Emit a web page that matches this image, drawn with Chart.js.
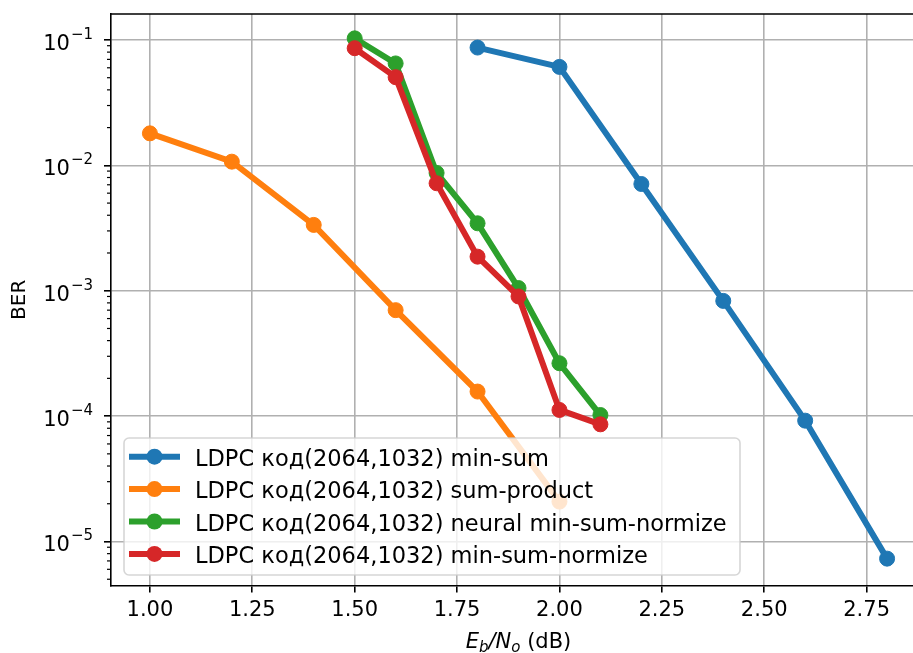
<!DOCTYPE html>
<html>
<head>
<meta charset="utf-8">
<script src="https://cdn.jsdelivr.net/npm/chart.js@4.4.1/dist/chart.umd.min.js"></script>
<style>
html,body{margin:0;padding:0;background:#fff;overflow:hidden;width:913px;height:653px;}
canvas{display:block;}
</style>
</head>
<body>
<canvas id="c" width="940" height="653"></canvas>
<script>
// ---- data ----
const seriesLabels = [
  'LDPC код(2064,1032) min-sum',
  'LDPC код(2064,1032) sum-product',
  'LDPC код(2064,1032) neural min-sum-normize',
  'LDPC код(2064,1032) min-sum-normize'
];
const snrMinSum = [1.8, 2.0, 2.2, 2.4, 2.6, 2.8];
const berMinSum = [0.087, 0.061, 0.0071, 0.00083, 0.000092, 0.0000073];
const snrSumProduct = [1.0, 1.2, 1.4, 1.6, 1.8, 2.0];
const berSumProduct = [0.018, 0.0107, 0.00335, 0.0007, 0.000157, 0.0000208];
const snrNeural = [1.5, 1.6, 1.7, 1.8, 1.9, 2.0, 2.1];
const berNeural = [0.103, 0.065, 0.0087, 0.00345, 0.00105, 0.000264, 0.000102];
const snrNormalized = [1.5, 1.6, 1.7, 1.8, 1.9, 2.0, 2.1];
const berNormalized = [0.086, 0.0505, 0.0072, 0.00187, 0.0009, 0.000112, 0.000086];
const xTickValues = [1.0, 1.25, 1.5, 1.75, 2.0, 2.25, 2.5, 2.75];
const xTickLabels = ['1.00', '1.25', '1.50', '1.75', '2.00', '2.25', '2.50', '2.75'];
const yTickValues = [1e-5, 1e-4, 1e-3, 1e-2, 1e-1];
const yTickExponents = ['\u22125', '\u22124', '\u22123', '\u22122', '\u22121'];
const colors = ['#1f77b4', '#ff7f0e', '#2ca02c', '#d62728'];

const pairs = (xs, ys) => xs.map((x, i) => ({x: x, y: ys[i]}));
const seriesData = [
  pairs(snrMinSum, berMinSum),
  pairs(snrSumProduct, berSumProduct),
  pairs(snrNeural, berNeural),
  pairs(snrNormalized, berNormalized)
];

const FONT = '"DejaVu Sans", sans-serif';
const LW = 6, PR = 7.5;

const datasets = seriesData.map((d, i) => ({
  label: seriesLabels[i],
  data: d,
  borderColor: colors[i],
  backgroundColor: colors[i],
  pointBackgroundColor: colors[i],
  pointBorderColor: colors[i],
  borderWidth: LW,
  pointRadius: PR,
  pointBorderWidth: 1,
  pointHoverRadius: PR,
  tension: 0,
  fill: false,
  order: 3 - i
}));

const extras = {
  id: 'extras',
  afterDatasetsDraw(chart) {
    const ctx = chart.ctx;
    const ca = chart.chartArea;
    const ys = chart.scales.y;
    ctx.save();
    // top and right spines
    ctx.strokeStyle = '#000';
    ctx.lineWidth = 1.6;
    ctx.beginPath();
    ctx.moveTo(ca.left, ca.top);
    ctx.lineTo(ca.right, ca.top);
    ctx.lineTo(ca.right, ca.bottom);
    ctx.stroke();
    // minor y ticks
    ctx.lineWidth = 1.2;
    for (let e = -6; e <= 0; e++) {
      for (let k = 2; k <= 9; k++) {
        const v = k * Math.pow(10, e);
        if (v < ys.min || v > ys.max) continue;
        const py = ys.getPixelForValue(v);
        ctx.beginPath();
        ctx.moveTo(ca.left, py);
        ctx.lineTo(ca.left - 4, py);
        ctx.stroke();
      }
    }
    // y tick labels (mathtext style)
    ctx.fillStyle = '#000';
    ctx.textBaseline = 'alphabetic';
    yTickValues.forEach((v, i) => {
      const py = ys.getPixelForValue(v);
      ctx.font = '15px ' + FONT;
      const ew = ctx.measureText(yTickExponents[i]).width;
      const right = ca.left - 18;
      ctx.textAlign = 'right';
      ctx.fillText(yTickExponents[i], right, py - 1);
      ctx.font = '21px ' + FONT;
      ctx.fillText('10', right - ew - 1, py + 10);
    });
    // y title
    ctx.save();
    ctx.translate(20, (ca.top + ca.bottom) / 2);
    ctx.rotate(-Math.PI / 2);
    ctx.font = '20px ' + FONT;
    ctx.textAlign = 'center';
    ctx.textBaseline = 'middle';
    ctx.fillText('BER', 0, 0);
    ctx.restore();
    // x title: E_b/N_o (dB)
    const parts = [
      {t: 'E', f: 'italic 21px ' + FONT, dy: 0},
      {t: 'b', f: 'italic 15px ' + FONT, dy: 4},
      {t: '/N', f: 'italic 21px ' + FONT, dy: 0},
      {t: 'o', f: 'italic 15px ' + FONT, dy: 4},
      {t: ' (dB)', f: '21px ' + FONT, dy: 0}
    ];
    let tw = 0;
    parts.forEach(p => { ctx.font = p.f; p.w = ctx.measureText(p.t).width; tw += p.w; });
    let x0 = (ca.left + ca.right) / 2 - tw / 2;
    ctx.textAlign = 'left';
    parts.forEach(p => { ctx.font = p.f; ctx.fillText(p.t, x0, 648 + p.dy); x0 += p.w; });
    ctx.restore();
  },
  afterDraw(chart) {
    const ctx = chart.ctx;
    ctx.save();
    // legend box
    const bx = 124, by = 438, bw = 616, bh = 137, r = 5;
    ctx.beginPath();
    ctx.moveTo(bx + r, by);
    ctx.arcTo(bx + bw, by, bx + bw, by + bh, r);
    ctx.arcTo(bx + bw, by + bh, bx, by + bh, r);
    ctx.arcTo(bx, by + bh, bx, by, r);
    ctx.arcTo(bx, by, bx + bw, by, r);
    ctx.closePath();
    ctx.fillStyle = 'rgba(255,255,255,0.8)';
    ctx.fill();
    ctx.strokeStyle = 'rgba(204,204,204,0.8)';
    ctx.lineWidth = 1.6;
    ctx.stroke();
    chart.data.datasets.forEach((ds, i) => {
      const cy = 456.7 + i * 32.4;
      ctx.strokeStyle = ds.borderColor;
      ctx.lineWidth = LW;
      ctx.beginPath();
      ctx.moveTo(129, cy);
      ctx.lineTo(180, cy);
      ctx.stroke();
      ctx.fillStyle = ds.borderColor;
      ctx.beginPath();
      ctx.arc(154.5, cy, PR + 0.5, 0, Math.PI * 2);
      ctx.fill();
      ctx.fillStyle = '#000';
      ctx.font = '22.5px ' + FONT;
      ctx.textAlign = 'left';
      ctx.textBaseline = 'alphabetic';
      ctx.fillText(ds.label, 195, cy + 9);
    });
    ctx.restore();
  }
};

new Chart(document.getElementById('c'), {
  type: 'line',
  data: {datasets: datasets},
  options: {
    responsive: false,
    animation: false,
    devicePixelRatio: 1,
    layout: {padding: {top: 14, right: 14, left: 0, bottom: 0}},
    plugins: {legend: {display: false}, tooltip: {enabled: false}},
    scales: {
      x: {
        type: 'linear',
        min: 0.905,
        max: 2.895,
        afterBuildTicks: s => { s.ticks = xTickValues.map(v => ({value: v})); },
        afterFit: s => { s.height = 67.5; },
        grid: {color: '#b0b0b0', lineWidth: 1.6, tickColor: '#000', tickLength: 7, tickWidth: 1.6, drawOnChartArea: true},
        border: {color: '#000', width: 1.6},
        ticks: {
          font: {family: FONT, size: 21},
          color: '#000',
          padding: 5,
          maxRotation: 0,
          autoSkip: false,
          callback: (v, i) => xTickLabels[i]
        }
      },
      y: {
        type: 'logarithmic',
        min: 4.457e-6,
        max: 0.1611,
        afterBuildTicks: s => { s.ticks = yTickValues.map(v => ({value: v})); },
        afterFit: s => { s.width = 111; },
        grid: {color: '#b0b0b0', lineWidth: 1.6, tickColor: '#000', tickLength: 7, tickWidth: 1.6},
        border: {color: '#000', width: 1.6},
        ticks: {display: false}
      }
    }
  },
  plugins: [extras]
});
</script>
</body>
</html>
